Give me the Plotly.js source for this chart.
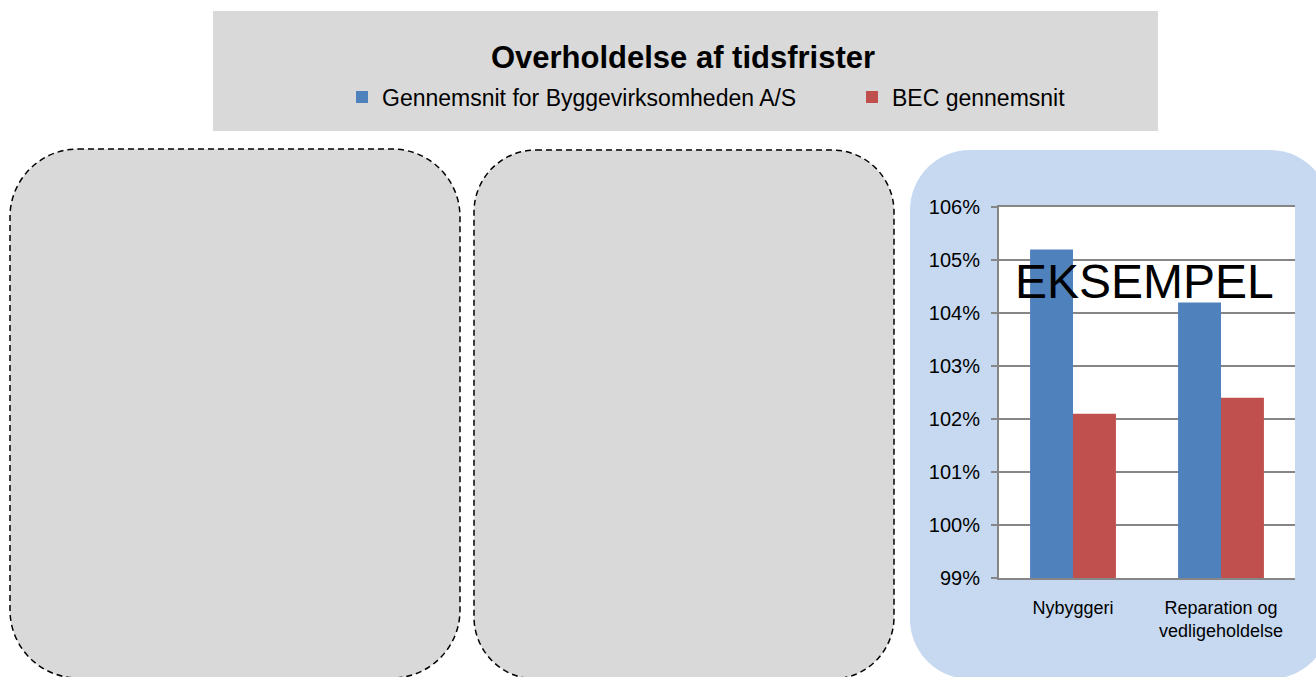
<!DOCTYPE html>
<html><head><meta charset="utf-8">
<script src="https://cdn.plot.ly/plotly-3.0.1.min.js"></script>
<style>html,body{margin:0;padding:0;background:#fff;overflow:hidden;} #chart{width:1316px;height:677px;}</style>
</head><body><div id="chart"></div>
<script>
// ---- data ----
const categories = ['Nybyggeri', 'Reparation og<br>vedligeholdelse'];
const seriesNames = ['Gennemsnit for Byggevirksomheden A/S', 'BEC gennemsnit'];
const byggevirksomhedenValues = [105.2, 104.2];
const becGennemsnitValues = [102.1, 102.4];
const yTickVals = [99, 100, 101, 102, 103, 104, 105, 106];
const yTickText = ['99%', '100%', '101%', '102%', '103%', '104%', '105%', '106%'];
const chartTitle = 'Overholdelse af tidsfrister';
const watermarkText = 'EKSEMPEL';

// ---- geometry (pixels) ----
const W = 1316, H = 677;
const L = 999, R = 1295, T = 207, B = 578;
const X = px => (px - L) / (R - L);
const Y = py => (B - py) / (B - T);
function rr(x0, y0, x1, y1, r) {
  const k = 0.5523 * r;
  const p = (a, b) => X(a).toFixed(5) + ',' + Y(b).toFixed(5);
  return 'M' + p(x0 + r, y0) + ' L' + p(x1 - r, y0) +
    ' C' + p(x1 - r + k, y0) + ' ' + p(x1, y0 + r - k) + ' ' + p(x1, y0 + r) +
    ' L' + p(x1, y1 - r) +
    ' C' + p(x1, y1 - r + k) + ' ' + p(x1 - r + k, y1) + ' ' + p(x1 - r, y1) +
    ' L' + p(x0 + r, y1) +
    ' C' + p(x0 + r - k, y1) + ' ' + p(x0, y1 - r + k) + ' ' + p(x0, y1 - r) +
    ' L' + p(x0, y0 + r) +
    ' C' + p(x0, y0 + r - k) + ' ' + p(x0 + r - k, y0) + ' ' + p(x0 + r, y0) + ' Z';
}
const FONT = 'Liberation Sans, Arial, sans-serif';
const GRID = '#868686';

const traces = [
  { type: 'bar', name: seriesNames[0], x: categories, y: byggevirksomhedenValues,
    marker: { color: '#4F81BD' }, hoverinfo: 'none', legend: 'legend' },
  { type: 'bar', name: seriesNames[1], x: categories, y: becGennemsnitValues,
    marker: { color: '#C0504D' }, hoverinfo: 'none', legend: 'legend2' }
];

const legendCommon = {
  orientation: 'h', xanchor: 'left', yanchor: 'middle', xref: 'container', yref: 'container',
  bgcolor: 'rgba(0,0,0,0)', borderwidth: 0,
  font: { family: FONT, size: 23, color: '#000' }
};

const layout = {
  width: W, height: H,
  margin: { l: L, r: W - R, t: T, b: H - B, pad: 0 },
  paper_bgcolor: '#ffffff', plot_bgcolor: 'rgba(0,0,0,0)',
  font: { family: FONT, color: '#000' },
  barmode: 'group', bargap: 0.42, bargroupgap: 0,
  title: { text: '<b>' + chartTitle + '</b>', font: { family: FONT, size: 31, color: '#000' },
    xref: 'container', yref: 'container', x: 683 / W, y: 1 - 57 / H, xanchor: 'center', yanchor: 'middle' },
  showlegend: true,
  legend: Object.assign({}, legendCommon, { x: 342 / W, y: 1 - 97 / H }),
  legend2: Object.assign({}, legendCommon, { x: 852 / W, y: 1 - 97 / H }),
  xaxis: { type: 'category', showgrid: false, showline: true, mirror: true, linecolor: GRID, linewidth: 2,
    ticks: '', tickfont: { family: FONT, size: 18, color: '#000' }, ticklabelstandoff: 12,
    fixedrange: true, zeroline: false },
  yaxis: { range: [99, 106], tickvals: yTickVals, ticktext: yTickText, showgrid: true, gridcolor: GRID, gridwidth: 2,
    showline: true, linecolor: GRID, linewidth: 2, ticks: 'outside', ticklen: 6, tickwidth: 2, tickcolor: GRID,
    tickfont: { family: FONT, size: 20, color: '#000' }, ticklabelstandoff: 7, zeroline: false, fixedrange: true },
  shapes: [
    { type: 'rect', xref: 'paper', yref: 'paper', x0: X(213), x1: X(1158), y0: Y(11), y1: Y(131),
      fillcolor: '#D9D9D9', line: { width: 0 }, layer: 'below' },
    { type: 'path', xref: 'paper', yref: 'paper', path: rr(10, 149, 460, 678, 68),
      fillcolor: '#D9D9D9', line: { color: '#000', width: 1.5, dash: '6px,4px' }, layer: 'below' },
    { type: 'path', xref: 'paper', yref: 'paper', path: rr(474, 150, 894, 679, 62),
      fillcolor: '#D9D9D9', line: { color: '#000', width: 1.5, dash: '6px,4px' }, layer: 'below' },
    { type: 'path', xref: 'paper', yref: 'paper', path: rr(910, 150, 1330, 679, 60),
      fillcolor: '#C6D9F1', line: { width: 0 }, layer: 'below' },
    { type: 'rect', xref: 'paper', yref: 'paper', x0: 0, x1: 1, y0: 0, y1: 1,
      fillcolor: '#ffffff', line: { width: 0 }, layer: 'below' }
  ],
  annotations: [
    { text: watermarkText, xref: 'paper', yref: 'paper', x: X(1144.5), y: Y(281.5),
      xanchor: 'center', yanchor: 'middle', showarrow: false,
      font: { family: FONT, size: 48, color: '#000' } }
  ]
};

Plotly.newPlot('chart', traces, layout, { displayModeBar: false, staticPlot: true });
</script>
</body></html>
